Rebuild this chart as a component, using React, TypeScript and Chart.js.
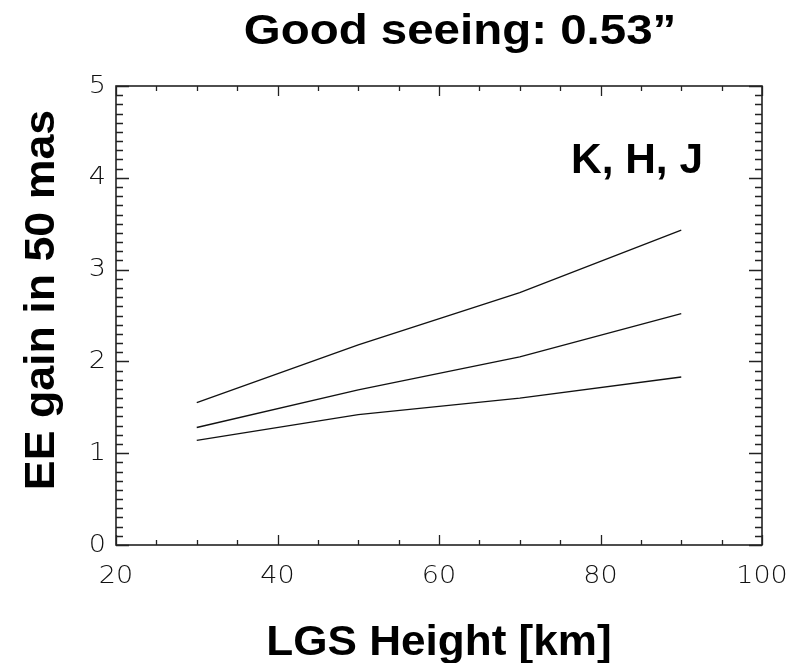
import React, { useEffect, useRef } from "react";
import { Chart, registerables } from "chart.js";

Chart.register(...registerables);

const heights = [30, 50, 70, 90];
const seriesK = [1.55, 2.18, 2.75, 3.43];
const seriesH = [1.28, 1.69, 2.05, 2.52];
const seriesJ = [1.14, 1.42, 1.6, 1.83];
const xTicks = [20, 40, 60, 80, 100];
const yTicks = [0, 1, 2, 3, 4, 5];
const xMinorStep = 5;
const yMinorStep = 0.1;
const titleText = "Good seeing: 0.53\u201D";
const xLabel = "LGS Height [km]";
const yLabel = "EE gain in 50 mas";
const annotation = "K, H, J";

const BOLD = "bold 42px 'Liberation Sans', Arial, sans-serif";
const THIN = "200 25px 'DejaVu Sans', 'Open Sans', sans-serif";

function stretchedText(ctx: any, text: string, x: number, y: number, sx: number, align: string, rot = 0) {
  ctx.save();
  ctx.translate(x, y);
  if (rot) ctx.rotate(rot);
  ctx.scale(sx, 1);
  ctx.textAlign = align;
  ctx.fillText(text, 0, 0);
  ctx.restore();
}

const framePlugin = {
  id: "idlFrame",
  afterDraw(chart: any) {
    const { ctx, chartArea: a, scales } = chart;
    const xs = scales.x;
    const ys = scales.y;
    ctx.save();
    ctx.strokeStyle = "#222";
    ctx.lineWidth = 1.6;
    ctx.strokeRect(a.left, a.top, a.right - a.left, a.bottom - a.top);
    ctx.lineWidth = 1.3;
    ctx.beginPath();
    for (let v = xs.min; v <= xs.max + 1e-9; v += xMinorStep) {
      const px = Math.round(xs.getPixelForValue(v)) + 0.5;
      const major = xTicks.some((t) => Math.abs(t - v) < 1e-6);
      const len = major ? 10 : 5;
      ctx.moveTo(px, a.bottom);
      ctx.lineTo(px, a.bottom - len);
      ctx.moveTo(px, a.top);
      ctx.lineTo(px, a.top + len);
    }
    for (let i = 0; ; i++) {
      const v = ys.min + i * yMinorStep;
      if (v > ys.max + 1e-9) break;
      const py = Math.round(ys.getPixelForValue(v)) + 0.5;
      const major = yTicks.some((t) => Math.abs(t - v) < 1e-6);
      const len = major ? 13 : 7;
      ctx.moveTo(a.left, py);
      ctx.lineTo(a.left + len, py);
      ctx.moveTo(a.right, py);
      ctx.lineTo(a.right - len, py);
    }
    ctx.stroke();

    ctx.fillStyle = "#111";
    ctx.font = THIN;
    ctx.textBaseline = "alphabetic";
    xTicks.forEach((t) => {
      stretchedText(ctx, String(t), xs.getPixelForValue(t), 583, 1.08, "center");
    });
    ctx.textBaseline = "middle";
    yTicks.forEach((t) => {
      stretchedText(ctx, String(t), a.left - 10, ys.getPixelForValue(t), 1.08, "right");
    });

    ctx.fillStyle = "#000";
    ctx.font = BOLD;
    ctx.textBaseline = "alphabetic";
    stretchedText(ctx, titleText, 460, 44, 1.13, "center");
    stretchedText(ctx, xLabel, 439, 655, 1.05, "center");
    stretchedText(ctx, annotation, 703, 173, 1.01, "right");
    stretchedText(ctx, yLabel, 54, 300, 1.065, "center", -Math.PI / 2);
    ctx.restore();
  },
};

export default function App() {
  const ref = useRef<HTMLCanvasElement>(null);
  useEffect(() => {
    if (!ref.current) return;
    const mk = (d: number[]) => ({
      data: heights.map((h, i) => ({ x: h, y: d[i] })),
      borderColor: "#111",
      borderWidth: 1.3,
      pointRadius: 0,
      fill: false,
      tension: 0,
    });
    const chart = new Chart(ref.current, {
      type: "line",
      data: { datasets: [mk(seriesK), mk(seriesH), mk(seriesJ)] },
      options: {
        animation: false,
        responsive: false,
        devicePixelRatio: 1,
        layout: { padding: { left: 116, right: 40, top: 86, bottom: 118 } },
        plugins: { legend: { display: false }, tooltip: { enabled: false }, title: { display: false } },
        scales: {
          x: { type: "linear", min: xTicks[0], max: xTicks[xTicks.length - 1], display: false },
          y: { type: "linear", min: yTicks[0], max: yTicks[yTicks.length - 1], display: false },
        },
      },
      plugins: [framePlugin],
    });
    return () => chart.destroy();
  }, []);
  return (
    <div style={{ position: "absolute", left: 0, top: 0, width: 802, height: 663, background: "#fff" }}>
      <canvas ref={ref} width={802} height={663} style={{ display: "block" }} />
    </div>
  );
}
